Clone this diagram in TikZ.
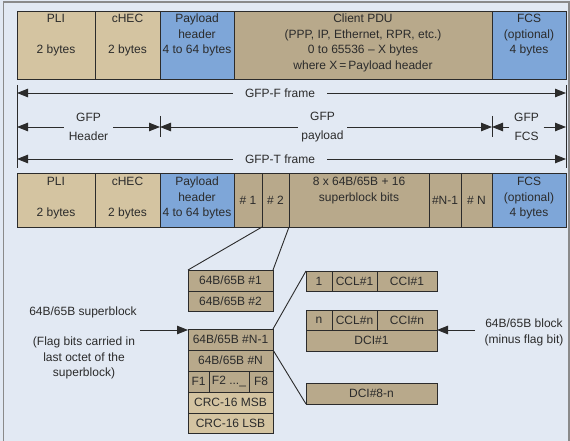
\documentclass[tikz,border=0pt]{standalone}
\usepackage{fontspec}
\setmainfont{Liberation Sans}
\usetikzlibrary{arrows.meta}
\definecolor{bgc}{HTML}{E2E9F3}
\definecolor{tanl}{HTML}{D4C4A1}
\definecolor{tand}{HTML}{B8A98B}
\definecolor{blu}{HTML}{7EA6D8}
\definecolor{linec}{HTML}{2B2B2B}
\definecolor{framec}{HTML}{8A8A8A}
\newcommand{\st}{\rule[-6.5pt]{0pt}{15.5pt}}
\begin{document}
\begin{tikzpicture}[x=1pt,y=-1pt,
	every node/.style={font=\fontsize{12}{15.5}\selectfont, text=linec, align=center},
	box/.style={draw=linec, line width=0.8pt, inner sep=0pt, outer sep=0pt, anchor=north west},
	lbl/.style={inner ysep=0pt},
	ln/.style={draw=linec, line width=0.9pt},
	arr/.style={ln, -{Triangle[length=11pt,width=8.5pt]}}]
	\useasboundingbox (0,0) rectangle (570,441);
	\fill[bgc] (0,0) rectangle (570,441);
	\draw[framec, line width=1.3pt] (3.5,2) rectangle (569,446);
	% GFP-F frame
	\node[box, fill=tanl, minimum width=78, minimum height=68] (pli) at (17,11) {\st PLI\\\st\\\st 2 bytes\\\st};
	\node[box, fill=tanl, minimum width=65, minimum height=68] (chec) at (95,11) {\st cHEC\\\st\\\st 2 bytes\\\st};
	\node[box, fill=blu, minimum width=74, minimum height=68] (ph) at (160,11) {\st Payload\\\st header\\\st 4 to 64 bytes\\\st};
	\node[box, fill=tand, minimum width=258, minimum height=68] (pdu) at (234,11) {\st Client PDU\\\st (PPP, IP, Ethernet, RPR, etc.)\\\st 0 to 65536 -- X bytes\\\st where X\,=\,Payload header};
	\node[box, fill=blu, minimum width=74, minimum height=68] (fcs) at (492,11) {\st FCS\\\st (optional)\\\st 4 bytes\\\st};
	% extents
	\coordinate (fl) at (17,93);
	\coordinate (fr) at (566,93);
	\coordinate (hl) at (17,127);
	\coordinate (hm) at (160,127);
	\coordinate (pm) at (492,127);
	\coordinate (hr) at (566,127);
	\coordinate (tl) at (17,159);
	\coordinate (tr) at (566,159);
	\draw[ln] (17,85) -- (17,168);
	\draw[ln] (566,85) -- (566,168);
	\draw[ln] (160,116) -- (160,137);
	\draw[ln] (492,116) -- (492,137);
	\node[lbl, inner xsep=12] (gfpf) at (280,93) {GFP-F frame};
	\node[lbl, inner xsep=5] (gh) at (88.5,127) {GFP\\[3pt]Header};
	\node[lbl, inner xsep=3.5] (gp) at (322.5,127) {GFP\\[3pt]payload};
	\node[lbl, inner xsep=4.5] (gf) at (526.5,127) {GFP\\[3pt]FCS};
	\node[lbl, inner xsep=12] (gfpt) at (280,159) {GFP-T frame};
	\draw[arr] (gfpf) -- (fl);
	\draw[arr] (gfpf) -- (fr);
	\draw[arr] (gh) -- (hl);
	\draw[arr] (gh) -- (hm);
	\draw[arr] (gp) -- (hm);
	\draw[arr] (gp) -- (pm);
	\draw[arr] (gf) -- (pm);
	\draw[arr] (gf) -- (hr);
	\draw[arr] (gfpt) -- (tl);
	\draw[arr] (gfpt) -- (tr);
	% GFP-T frame
	\node[box, fill=tanl, minimum width=78, minimum height=54] (pli2) at (17,173) {\st PLI\\\st\\\st 2 bytes};
	\node[box, fill=tanl, minimum width=65, minimum height=54] (chec2) at (95,173) {\st cHEC\\\st\\\st 2 bytes};
	\node[box, fill=blu, minimum width=74, minimum height=54] (ph2) at (160,173) {\st Payload\\\st header\\\st 4 to 64 bytes};
	\node[box, fill=tand, minimum width=28, minimum height=54] (b1) at (234,173) {\# 1};
	\node[box, fill=tand, minimum width=27, minimum height=54] (b2) at (262,173) {\# 2};
	\node[box, fill=tand, minimum width=140, minimum height=54] (sb) at (289,173) {\st 8 x 64B/65B + 16\\\st superblock bits\\\st};
	\node[box, fill=tand, minimum width=32, minimum height=54] (bn1) at (429,173) {\#N-1};
	\node[box, fill=tand, minimum width=31, minimum height=54] (bn) at (461,173) {\# N};
	\node[box, fill=blu, minimum width=74, minimum height=54] (fcs2) at (492,173) {\st FCS\\\st (optional)\\\st 4 bytes};
	% superblock
	\node[box, fill=tand, minimum width=85, minimum height=21] (s1) at (188,270) {64B/65B \#1};
	\node[box, fill=tand, minimum width=85, minimum height=20] (s2) at (188,291) {64B/65B \#2};
	\node[box, fill=tand, minimum width=85, minimum height=21] (sn1) at (188,329) {64B/65B \#N-1};
	\node[box, fill=tand, minimum width=85, minimum height=21] (sn) at (188,350) {64B/65B \#N};
	\node[box, fill=tand, minimum width=21, minimum height=21] (f1) at (188,371) {F1};
	\node[box, fill=tand, minimum width=40, minimum height=21] (f2) at (209,371) {F2 ...\_};
	\node[box, fill=tand, minimum width=24, minimum height=21] (f8) at (249,371) {F8};
	\node[box, fill=tanl, minimum width=85, minimum height=21] (crc1) at (188,392) {CRC-16 MSB};
	\node[box, fill=tanl, minimum width=85, minimum height=20] (crc2) at (188,413) {CRC-16 LSB};
	% 64B/65B blocks
	\node[box, fill=tand, minimum width=26, minimum height=20] (c1a) at (306,271) {1};
	\node[box, fill=tand, minimum width=45, minimum height=20] (c1b) at (332,271) {CCL\#1};
	\node[box, fill=tand, minimum width=60, minimum height=20] (c1c) at (377,271) {CCI\#1};
	\node[box, fill=tand, minimum width=26, minimum height=20] (c2a) at (306,310) {n};
	\node[box, fill=tand, minimum width=45, minimum height=20] (c2b) at (332,310) {CCL\#n};
	\node[box, fill=tand, minimum width=60, minimum height=20] (c2c) at (377,310) {CCI\#n};
	\node[box, fill=tand, minimum width=131, minimum height=21] (dci1) at (306,330) {DCI\#1};
	\node[box, fill=tand, minimum width=131, minimum height=21] (dci8) at (306,383) {DCI\#8-n};
	\draw[ln] (b2.south west) -- (s1.north west);
	\draw[ln] (b2.south east) -- (s1.north east);
	\draw[ln] (sn1.north east) -- (c1a.north west);
	\draw[ln] (sn.north east) -- (dci8.south west);
	% notes
	\node (sup) at (83,312) {64B/65B superblock};
	\node (flag) at (84,358) {(Flag bits carried in\\last octet of the\\superblock)};
	\coordinate (sa) at (140,330);
	\draw[arr] (sa) -- ([yshift=-1pt]sn1.north west);
	\node (blk) at (524,332.5) {64B/65B block\\(minus flag bit)};
	\coordinate (ba) at (475,330);
	\draw[arr] (ba) -- (c2c.south east);
\end{tikzpicture}
\end{document}
